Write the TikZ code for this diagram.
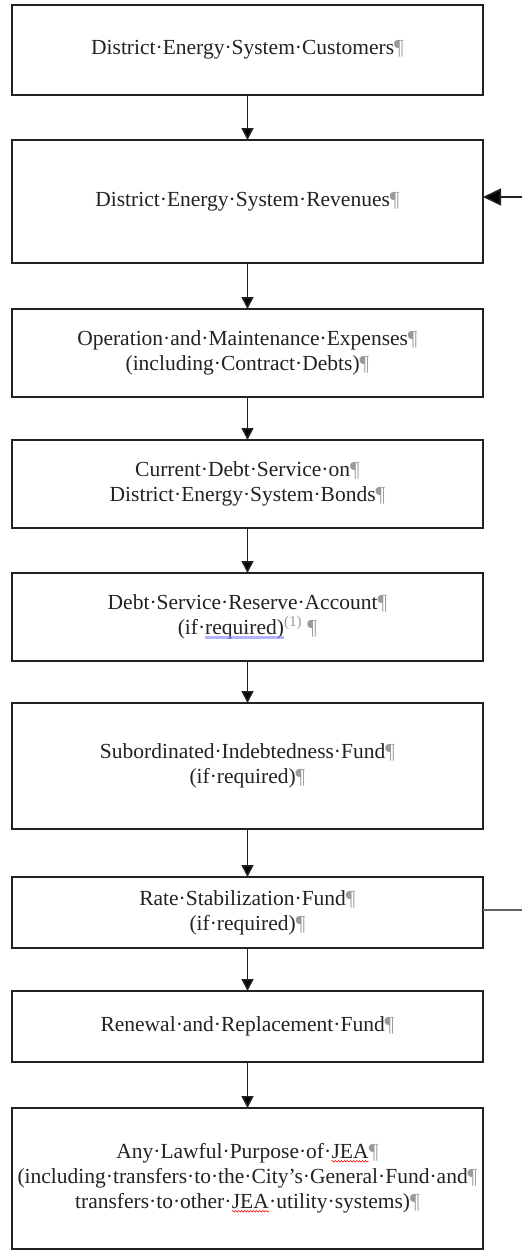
\documentclass[tikz,border=0pt]{standalone}
\usepackage{fontspec}
\setmainfont{Liberation Serif}
\usetikzlibrary{arrows.meta,positioning,decorations.pathmorphing}
\definecolor{inkgray}{HTML}{222222}
\definecolor{markgray}{HTML}{9A9A9A}
\newcommand{\pil}{{\color{markgray}¶}}
\tikzset{plainmark/.style={draw=none, inner sep=0pt, outer sep=0pt, minimum width=0pt, minimum height=0pt}}
\newcommand{\redwave}[1]{%
  \tikz[baseline=(w.base)]{
    \node[plainmark] (w) {#1};
    \draw[red, line width=0.6pt, decorate, decoration={snake, amplitude=0.8pt, segment length=3pt}]
      ([yshift=-2.5pt]w.base west) -- ([yshift=-2.5pt]w.base east);
  }%
}
\newcommand{\blueline}[1]{%
  \tikz[baseline=(b.base)]{
    \node[plainmark] (b) {#1};
    \fill[blue!50, opacity=0.6] ([yshift=-5pt]b.base west) rectangle ([yshift=-2pt]b.base east);
  }%
}

\begin{document}
\begin{tikzpicture}[
    x=1pt, y=-1pt,
    box/.style={draw=inkgray, line width=1.6pt, minimum width=471pt, align=center, inner sep=2pt, outer sep=0pt, text=inkgray},
    flow/.style={-{Triangle[length=12pt,width=12pt]}, line width=1.6pt, draw=inkgray},
    feed/.style={-{Triangle[length=18pt,width=17pt]}, line width=1.6pt, draw=inkgray},
    font=\fontsize{21.5}{25}\selectfont, node distance=45pt
]
\useasboundingbox (0,0) rectangle (522,1251);

% Nodes
\node[box, minimum height=90pt] (customers) at (247.5,50) {District·Energy·System·Customers\pil};
\node[box, minimum height=123pt, below=45pt of customers] (revenues) {District·Energy·System·Revenues\pil};
\node[box, minimum height=88pt, below=46pt of revenues] (operation) {Operation·and·Maintenance·Expenses\pil\\(including·Contract·Debts)\pil};
\node[box, minimum height=88pt, below=43pt of operation] (debtservice) {Current·Debt·Service·on\pil\\District·Energy·System·Bonds\pil};
\node[box, minimum height=88pt, below=45pt of debtservice] (reserve) {Debt·Service·Reserve·Account\pil\\(if·\blueline{required)}\textsuperscript{\color{markgray}(1)}~\pil};
\node[box, minimum height=126pt, below=42pt of reserve] (subordinated) {Subordinated·Indebtedness·Fund\pil\\(if·required)\pil};
\node[box, minimum height=71pt, below=48pt of subordinated] (ratefund) {Rate·Stabilization·Fund\pil\\(if·required)\pil};
\node[box, minimum height=71pt, below=43pt of ratefund] (renewal) {Renewal·and·Replacement·Fund\pil};
\node[box, minimum height=141pt, below=46pt of renewal] (lawful) {Any·Lawful·Purpose·of·\redwave{JEA}\pil\\(including·transfers·to·the·City’s·General·Fund·and\pil\\transfers·to·other·\redwave{JEA}·utility·systems)\pil};

% Side links, free ends at the picture edge
\coordinate (feedin) at (522,197);
\coordinate (feedout) at (522,910);

% Arrows
\draw[flow] (customers) -- (revenues);
\draw[flow] (revenues) -- (operation);
\draw[flow] (operation) -- (debtservice);
\draw[flow] (debtservice) -- (reserve);
\draw[flow] (reserve) -- (subordinated);
\draw[flow] (subordinated) -- (ratefund);
\draw[flow] (ratefund) -- (renewal);
\draw[flow] (renewal) -- (lawful);
\draw[feed] (feedin) -- (feedin -| revenues.east);
\draw[line width=1.6pt, draw=inkgray!70] (feedout -| ratefund.east) -- (feedout);

\end{tikzpicture}
\end{document}
